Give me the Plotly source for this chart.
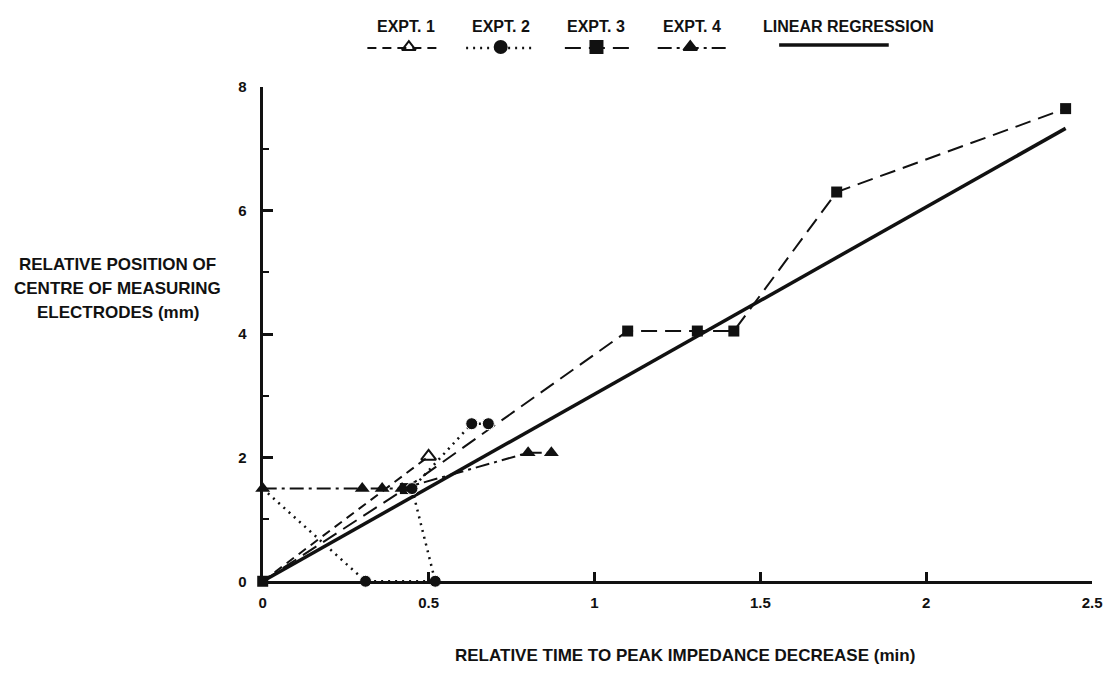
import plotly.graph_objects as go

# ---- data ----
expt1_x = [0.0, 0.50]
expt1_y = [0.0, 2.02]
expt2_x = [0.0, 0.31, 0.52, 0.45, 0.63, 0.68]
expt2_y = [1.5, 0.0, 0.0, 1.5, 2.55, 2.55]
expt3_x = [0.0, 0.43, 1.10, 1.31, 1.42, 1.73, 2.42]
expt3_y = [0.0, 1.5, 4.05, 4.05, 4.05, 6.3, 7.65]
expt4_x = [0.0, 0.30, 0.36, 0.42, 0.80, 0.87]
expt4_y = [1.5, 1.5, 1.5, 1.5, 2.08, 2.08]
reg_x = [0.0, 2.42]
reg_y = [0.0, 7.33]

x_ticks = [0, 0.5, 1, 1.5, 2, 2.5]
x_tick_labels = ["0", "0.5", "1", "1.5", "2", "2.5"]
y_ticks = [0, 2, 4, 6, 8]
y_tick_labels = ["0", "2", "4", "6", "8"]

legend_labels = ["EXPT. 1", "EXPT. 2", "EXPT. 3", "EXPT. 4", "LINEAR REGRESSION"]
y_title_lines = ["RELATIVE POSITION OF", "CENTRE OF MEASURING", "ELECTRODES (mm)"]
x_title = "RELATIVE TIME TO PEAK IMPEDANCE DECREASE (min)"

W, H = 1115, 677
FONT = "Liberation Sans, Arial, Helvetica, sans-serif"
INK = "#111111"

# plot area in pixels
PL, PR, PT, PB = 262, 1102, 80, 587

dash1 = "9px,6px"
dash2 = "2px,5px"
dash3 = "16px,8px"
dash4 = "14px,5px,3px,5px"

fig = go.Figure()

fig.add_trace(go.Scatter(x=reg_x, y=reg_y, mode="lines",
                         line=dict(color=INK, width=3.5), cliponaxis=False))
fig.add_trace(go.Scatter(x=expt3_x, y=expt3_y, mode="lines+markers",
                         line=dict(color=INK, width=2, dash=dash3),
                         marker=dict(symbol="square", size=11, color=INK, opacity=1),
                         cliponaxis=False))
fig.add_trace(go.Scatter(x=expt1_x, y=expt1_y, mode="lines+markers",
                         line=dict(color=INK, width=2, dash=dash1),
                         marker=dict(symbol="triangle-up-open", size=[0, 13], color=INK,
                                     opacity=1, line=dict(width=2, color=INK)),
                         cliponaxis=False))
fig.add_trace(go.Scatter(x=expt2_x, y=expt2_y, mode="lines+markers",
                         line=dict(color=INK, width=2.5, dash=dash2),
                         marker=dict(symbol="circle", size=[0, 12, 12, 12, 12, 12],
                                     color=INK, opacity=1),
                         cliponaxis=False))
fig.add_trace(go.Scatter(x=expt4_x, y=expt4_y, mode="lines+markers",
                         line=dict(color=INK, width=2, dash=dash4),
                         marker=dict(symbol="triangle-up", size=13, color=INK, opacity=1),
                         cliponaxis=False))

# ---- legend glyphs on an overlay pixel axis ----
leg_lines = [
    (368, 440, 40, dash1, 2, "triangle-up-open", 410),
    (468, 538, 40, dash2, 2.5, "circle", 503),
    (568, 638, 40, dash3, 2, "square", 600),
    (662, 732, 40, dash4, 2, "triangle-up", 695),
]
for x0, x1, yy, dsh, wd, sym, mx in leg_lines:
    fig.add_trace(go.Scatter(x=[x0, x1], y=[yy, yy], mode="lines", xaxis="x2", yaxis="y2",
                             line=dict(color=INK, width=wd, dash=dsh)))
    fig.add_trace(go.Scatter(x=[mx], y=[yy - 1], mode="markers", xaxis="x2", yaxis="y2",
                             marker=dict(symbol=sym, size=12, color=INK, opacity=1,
                                         line=dict(width=2, color=INK))))
fig.add_trace(go.Scatter(x=[785, 896], y=[37, 37], mode="lines", xaxis="x2", yaxis="y2",
                         line=dict(color=INK, width=3.5)))

annotations = []
for lbl, cx in zip(legend_labels, [407, 503, 600, 697, 855]):
    annotations.append(dict(x=cx, y=18, xref="x2", yref="y2", text=lbl, showarrow=False,
                            font=dict(family=FONT, size=16, color=INK, weight="bold"),
                            xanchor="center", yanchor="middle"))
for line_text, yy in zip(y_title_lines, [262, 287, 311]):
    annotations.append(dict(x=115, y=yy, xref="x2", yref="y2", text=line_text,
                            showarrow=False,
                            font=dict(family=FONT, size=17, color=INK, weight="bold"),
                            xanchor="center", yanchor="middle"))
annotations.append(dict(x=690, y=663, xref="x2", yref="y2", text=x_title,
                        showarrow=False,
                        font=dict(family=FONT, size=17, color=INK, weight="bold"),
                        xanchor="center", yanchor="middle"))

tickfont = dict(family=FONT, size=15, color=INK, weight="bold")

fig.update_layout(
    width=W, height=H,
    margin=dict(l=0, r=0, t=0, b=0),
    paper_bgcolor="white", plot_bgcolor="rgba(0,0,0,0)",
    showlegend=False,
    annotations=annotations,
    xaxis=dict(domain=[PL / W, PR / W], range=[0, 2.5], tickvals=x_ticks,
               ticktext=x_tick_labels, ticks="inside", ticklen=9, tickwidth=2.5,
               tickcolor=INK, showline=True, linewidth=3, linecolor=INK,
               showgrid=False, zeroline=False, tickfont=tickfont,
               ticklabelstandoff=6, anchor="y"),
    yaxis=dict(domain=[(H - PB) / H, (H - PT) / H], range=[0, 8], tickvals=y_ticks,
               ticktext=y_tick_labels, ticks="inside", ticklen=10, tickwidth=2.5,
               tickcolor=INK, showline=True, linewidth=3, linecolor=INK,
               showgrid=False, zeroline=False, tickfont=tickfont,
               ticklabelstandoff=10, anchor="x",
               minor=dict(ticks="inside", ticklen=6, tickwidth=2, tickcolor=INK,
                          dtick=1, tick0=0, showgrid=False)),
    xaxis2=dict(domain=[0, 1], range=[0, W], visible=False, fixedrange=True, anchor="y2"),
    yaxis2=dict(domain=[0, 1], range=[H, 0], visible=False, fixedrange=True, anchor="x2"),
)

fig.write_html("out.html")
